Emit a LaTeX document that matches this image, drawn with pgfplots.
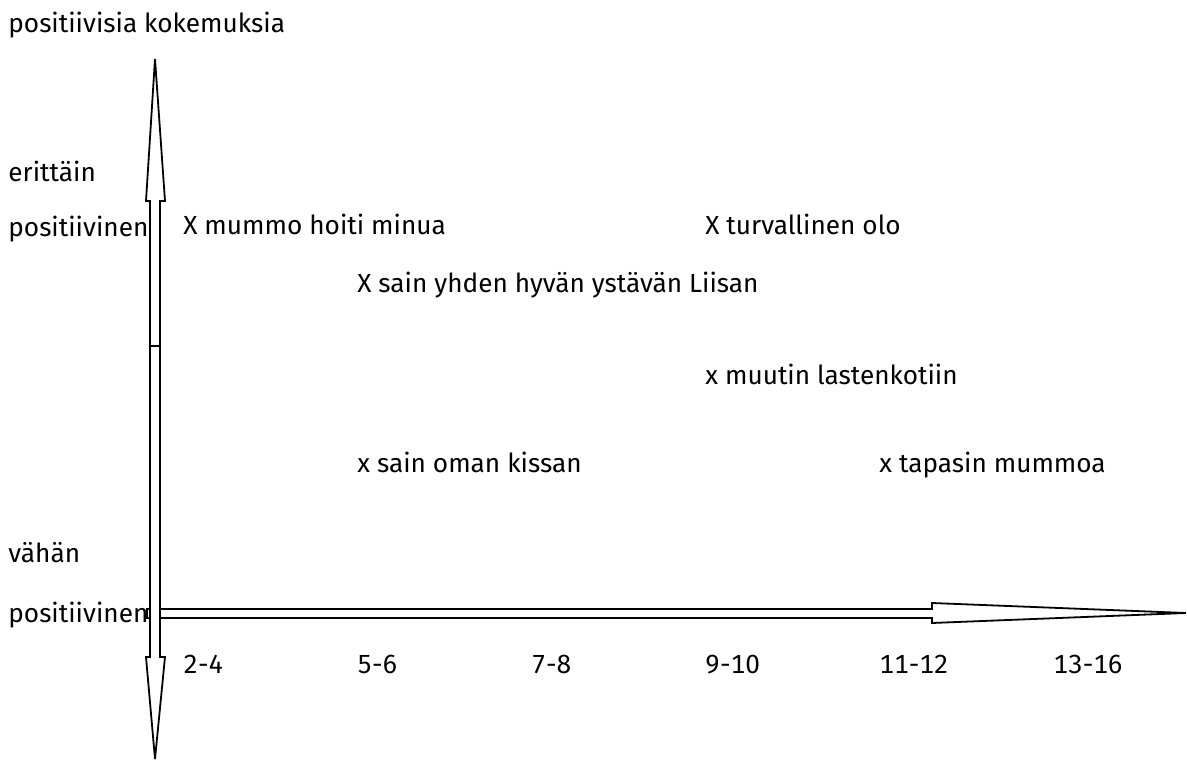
\documentclass[border=0pt]{standalone}
\usepackage{pgfplots}
\pgfplotsset{compat=1.18}
\usepackage{fontspec}
\setmainfont{Fira Sans}
\newcommand{\lblfont}{\fontsize{13.1}{15.5}\selectfont}
\begin{document}
\begin{tikzpicture}
\begin{axis}[
  name=ax,
  width=593.5pt, height=380pt, scale only axis,
  hide axis, clip=false,
  xmin=-1.05172, xmax=5.77011,
  ymin=-3.8642, ymax=15.9791,
  nodes near coords style={anchor=base west, inner sep=0pt, yshift=-3pt, font=\lblfont, text=black},
]
% events: x = age group index (0 = 2-4, ..., 5 = 13-16), y = positivity
\addplot[only marks, mark=none, nodes near coords, point meta=explicit symbolic] coordinates {
  (0,10) [X mummo hoiti minua]
  (3,10) [X turvallinen olo]
  (1,8.5) [X sain yhden hyvän ystävän Liisan]
  (3,6.1) [x muutin lastenkotiin]
  (1,3.8) [x sain oman kissan]
  (4,3.8) [x tapasin mummoa]
};
% age group labels
\addplot[only marks, mark=none, nodes near coords, point meta=explicit symbolic,
  nodes near coords style={font=\lblfont\addfontfeatures{Numbers=Monospaced}}] coordinates {
  (0,-1.46) [2-4]
  (1,-1.46) [5-6]
  (2,-1.46) [7-8]
  (3,-1.46) [9-10]
  (4,-1.46) [11-12]
  (5,-1.46) [13-16]
};
\end{axis}
\begin{scope}[x=0.5pt, y=-0.5pt, yshift=380pt, font=\lblfont]
  \node[anchor=base west, inner sep=0pt] at (8,33) {positiivisia kokemuksia};
  \node[anchor=base west, inner sep=0pt] at (8,182) {erittäin};
  \node[anchor=base west, inner sep=0pt] at (8,237) {positiivinen};
  \node[anchor=base west, inner sep=0pt] at (8,562) {vähän};
  \node[anchor=base west, inner sep=0pt] at (8,622) {positiivinen};
  \begin{scope}[line width=0.9pt, line join=miter, fill=white, draw=black]
    \filldraw[fill=white] (147,609) -- (932,609) -- (932,603) -- (1186,613) -- (932,623) -- (932,618) -- (147,618) -- cycle;
    \filldraw[fill=white] (150,346) -- (150,201) -- (146,201) -- (155,59) -- (165,201) -- (160,201) -- (160,346) -- cycle;
    \filldraw[fill=white] (150,346) -- (150,657) -- (146,657) -- (155,759) -- (165,657) -- (160,657) -- (160,346) -- cycle;
  \end{scope}
\end{scope}
\pgfresetboundingbox
\path[use as bounding box] (0,0) rectangle (593.5pt,380pt);
\end{tikzpicture}
\end{document}
